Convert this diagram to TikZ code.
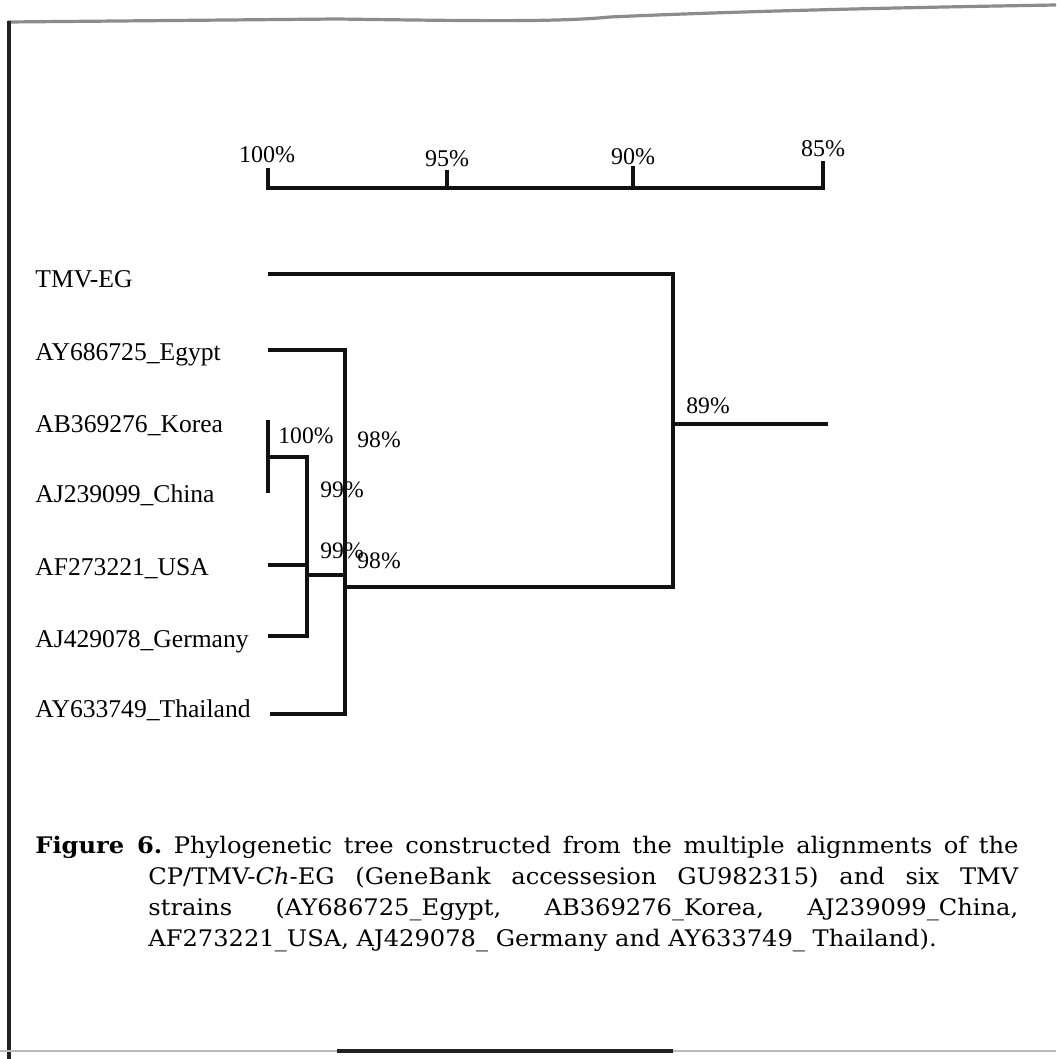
\documentclass[tikz,border=0pt]{standalone}
\usepackage{fontspec}
\setmainfont{Liberation Serif}
\newfontfamily\captionserif{DejaVu Serif}[FakeStretch=1.06]
\usepackage{tikz}
\usetikzlibrary{calc}
\tikzset{
  leaf label/.style={font=\fontsize{12.8}{15}\selectfont,anchor=base west,inner sep=0pt},
  scale label/.style={font=\fontsize{12}{14}\selectfont,anchor=base,inner sep=0pt},
  support label/.style={font=\fontsize{11.8}{14}\selectfont,anchor=base west,inner sep=0pt},
  caption text/.style={font=\captionserif\fontsize{11.4}{15.6}\selectfont,
    text width=491.5pt,align=justify,anchor=base west,inner sep=0pt},
  branch/.style={line width=2pt,draw=ink},
  scale bar/.style={line width=2pt,draw=ink},
  page edge/.style={line width=1.6pt,draw=edge}
}
\definecolor{ink}{HTML}{111111}
\definecolor{edge}{HTML}{222222}
\definecolor{shade}{HTML}{8C8C8C}

\begin{document}
\begin{tikzpicture}[x=0.5pt,y=-0.5pt]
  \useasboundingbox (0,0) rectangle (1056,1059);
  \fill[white] (0,0) rectangle (1056,1059);

  % page edges of the scan
  \draw[page edge,draw=shade] (8,22) -- (337,19) .. controls (480,21) and (560,22) .. (610,17)
    .. controls (720,12) and (870,8) .. (1056,5);
  \draw[page edge] (9,21) -- (9,1059);
  \draw[line width=1.2pt,draw=shade!60] (0,1051) -- (1056,1051);
  \draw[line width=2pt,draw=edge] (337,1051) -- (673,1051);

  % scale
  \node[scale label] (s100) at (267,163) {100\%};
  \node[scale label] (s95) at (447,167) {95\%};
  \node[scale label] (s90) at (633,165) {90\%};
  \node[scale label] (s85) at (823,157) {85\%};
  \draw[scale bar] (268,168) -- (268,188) -- (823,188) -- (823,161);
  \draw[scale bar] (447,170) -- (447,188);
  \draw[scale bar] (633,166) -- (633,188);

  % leaves
  \node[leaf label] (lTMV) at (35,287) {TMV-EG};
  \node[leaf label] (lEgypt) at (35,360) {AY686725\_Egypt};
  \node[leaf label] (lKorea) at (35,432) {AB369276\_Korea};
  \node[leaf label] (lChina) at (35,502) {AJ239099\_China};
  \node[leaf label] (lUSA) at (35,575) {AF273221\_USA};
  \node[leaf label] (lGermany) at (35,647) {AJ429078\_Germany};
  \node[leaf label] (lThailand) at (35,717) {AY633749\_Thailand};

  \coordinate (tTMV) at (268,274);
  \coordinate (tEgypt) at (268,350);
  \coordinate (tKorea) at (268,420);
  \coordinate (tChina) at (268,493);
  \coordinate (tUSA) at (268,565);
  \coordinate (tGermany) at (268,636);
  \coordinate (tThailand) at (270,714);

  \coordinate (kc) at (268,457);
  \coordinate (kcug) at (307,575);
  \coordinate (egt) at (345,587);
  \coordinate (root) at (673,424);
  \coordinate (rootend) at (828,424);

  % support values
  \node[support label] (b100) at (278,443) {100\%};
  \node[support label] (b98a) at (357,447) {98\%};
  \node[support label] (b99a) at (320,497) {99\%};
  \node[support label] (b99b) at (320,558) {99\%};
  \node[support label] (b98b) at (357,568) {98\%};
  \node[support label] (b89) at (686,413) {89\%};

  % branches
  \draw[branch] (tKorea) -- (tChina);
  \draw[branch] (kc) -| (kcug);
  \draw[branch] (tUSA) -| (kcug);
  \draw[branch] (tGermany) -| (kcug);
  \draw[branch] (kcug) -| (egt);
  \draw[branch] (tEgypt) -| (egt);
  \draw[branch] (tThailand) -| (egt);
  \draw[branch] (egt) -| (root);
  \draw[branch] (tTMV) -| (root);
  \draw[branch] (root) -- (rootend);

  \node[caption text] (caption) at (35,853)
    {\frenchspacing\hangindent=56.5pt\hangafter=1
     \textbf{Figure 6.} Phylogenetic tree constructed from the multiple alignments of the\linebreak
     CP/TMV-\textit{Ch}-EG (GeneBank accessesion GU982315) and six TMV\linebreak
     strains (AY686725\_Egypt, AB369276\_Korea, AJ239099\_China,\linebreak
     AF273221\_USA, AJ429078\_ Germany and AY633749\_ Thailand).\par};
\end{tikzpicture}
\end{document}
